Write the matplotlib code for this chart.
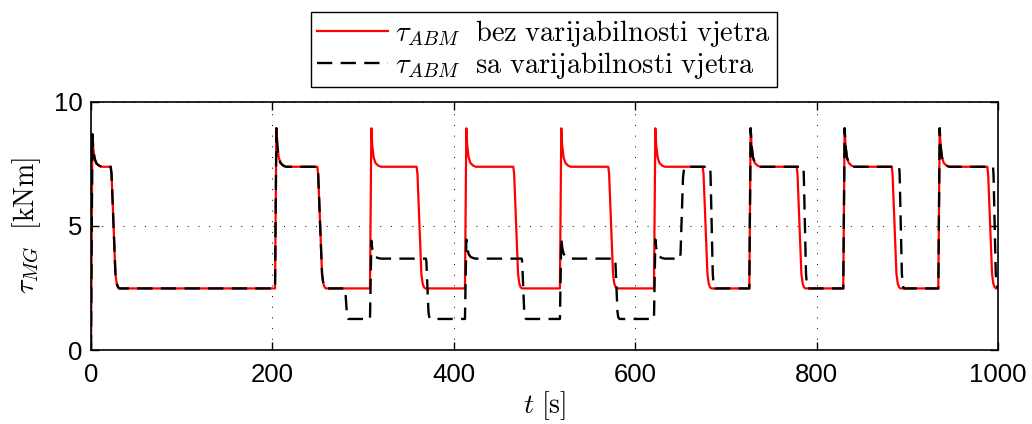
import numpy as np
import matplotlib
matplotlib.use("Agg")
import matplotlib.pyplot as plt

plt.rcParams['font.family'] = ['Liberation Sans', 'DejaVu Sans']
plt.rcParams['mathtext.fontset'] = 'cm'

# --- podaci ocitani sa slike ---
# trenutci promjene razine [s], nova razina [kNm], vrh prebacaja (0 = bez vrha),
# trajanje prijelaza [s]
red_t = [0, 21.7, 202.9, 249.5, 307.6, 359.0, 412.3, 465.6, 517.0, 570.3,
         620.7, 674.4, 725.8, 778.0, 829.4, 882.8, 934.2, 988.2]
red_level = [7.38, 2.48, 7.38, 2.48, 7.38, 2.48, 7.38, 2.48, 7.38, 2.48,
             7.38, 2.48, 7.38, 2.48, 7.38, 2.48, 7.38, 2.48]
red_peak = [8.69, 0, 8.93, 0, 8.93, 0, 8.93, 0, 8.93, 0,
            8.93, 0, 8.93, 0, 8.93, 0, 8.93, 0]
red_ramp = [0, 9.5, 0, 9.5, 0, 9.5, 0, 9.5, 0, 9.5,
            0, 9.5, 0, 9.5, 0, 9.5, 0, 9.5]

blk_t = [0, 21.7, 202.9, 249.5, 280.0, 307.6, 369.3, 412.3, 474.9, 517.0,
         577.7, 620.7, 649.4, 682.5, 725.8, 785.3, 829.4, 891.0, 934.2, 994.5]
blk_level = [7.38, 2.48, 7.38, 2.48, 1.25, 3.68, 1.25, 3.68, 1.25, 3.68,
             1.25, 3.68, 7.38, 2.48, 7.38, 2.48, 7.38, 2.48, 7.38, 2.48]
blk_peak = [8.69, 0, 8.93, 0, 0, 4.40, 0, 4.45, 0, 4.50,
            0, 4.45, 0, 0, 8.93, 0, 8.93, 0, 8.93, 0]
blk_ramp = [0, 9.5, 0, 9.5, 4.0, 0, 5.0, 0, 5.0, 0,
            5.0, 0, 6.0, 5.5, 0, 5.5, 0, 5.5, 0, 5.5]

# oblik prijelaza (ocitan sa slike): udio vremena / udio promjene
ramp_frac = [0.0, 0.1, 0.55, 0.7, 0.85, 1.0]
ramp_done = [0.0, 0.06, 0.88, 0.96, 0.99, 1.0]
# oblik vrha: vrijeme od pocetka [s] / udio prebacaja iznad razine
spike_dt = [1.5, 2.5, 4.0, 6.0, 9.0, 12.0]
spike_part = [1.0, 0.55, 0.25, 0.10, 0.03, 0.0]

t_end = 1000


def build(switch_t, level, peak, ramp):
    tt, yy = [], []
    prev = 0.0
    for t0, lv, pk, rp in zip(switch_t, level, peak, ramp):
        tt.append(t0)
        yy.append(prev)
        if pk > 0:
            for dt, p in zip(spike_dt, spike_part):
                tt.append(t0 + dt)
                yy.append(lv + p * (pk - lv))
        else:
            for f, d in zip(ramp_frac[1:], ramp_done[1:]):
                tt.append(min(t0 + f * rp, t_end))
                yy.append(prev + d * (lv - prev))
        prev = lv
    tt.append(t_end)
    yy.append(prev)
    return np.array(tt), np.array(yy)


tr, yr = build(red_t, red_level, red_peak, red_ramp)
tb, yb = build(blk_t, blk_level, blk_peak, blk_ramp)

fig = plt.figure(figsize=(10.32, 4.24), dpi=100)
ax = fig.add_axes([91 / 1032, 1 - 350 / 424, (998 - 91) / 1032, (350 - 101.7) / 424])

lw_b = 1.7
ax.plot(tr, yr, color='red', lw=1.6,
        label=r'$\tau_{ABM}\ \ \mathrm{bez\ varijabilnosti\ vjetra}$')
ax.plot(tb, yb, color='black', lw=lw_b, ls=(0, (11 / lw_b, 6 / lw_b)),
        label=r'$\tau_{ABM}\ \ \mathrm{sa\ varijabilnosti\ vjetra}$')

ax.set_xlim(0, 1000)
ax.set_ylim(0, 10)
ax.set_xticks([0, 200, 400, 600, 800, 1000])
ax.set_yticks([0, 5, 10])
ax.grid(True, color='black', ls=(0, (1, 10)), lw=0.7)
ax.tick_params(direction='in', top=True, right=True, length=6, width=1,
               labelsize=18.5)
ax.tick_params(axis='x', pad=9)
ax.tick_params(axis='y', pad=6)
for s in ax.spines.values():
    s.set_linewidth(1.2)

ax.set_xlabel(r'$t\ \mathrm{[s]}$', fontsize=20, labelpad=2)
ax.set_ylabel(r'$\tau_{MG}\ \ \mathrm{[kNm]}$', fontsize=20, labelpad=8)

leg = fig.legend(loc='upper center', bbox_to_anchor=(544 / 1032, 1 - 12 / 424),
                 fontsize=20.5, frameon=True, fancybox=False, framealpha=1,
                 edgecolor='black', borderpad=0.2, labelspacing=0.05,
                 handlelength=2.5, handletextpad=0.25, borderaxespad=0)
leg.get_frame().set_linewidth(1.0)

fig.savefig('out.png', dpi=100)
